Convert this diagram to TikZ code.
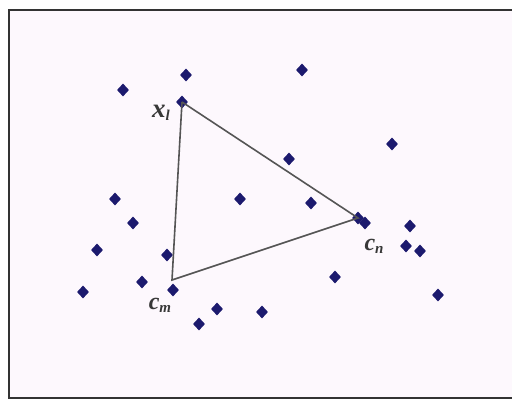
\documentclass[tikz,border=0pt]{standalone}
\usepackage{fontspec}
\setmainfont{Liberation Serif}
\usetikzlibrary{shapes.geometric}
\definecolor{dotblue}{HTML}{1C1A6E}
\definecolor{bgpink}{HTML}{FDF8FD}
\definecolor{framegray}{HTML}{333333}
\definecolor{edgegray}{HTML}{555555}
\newcommand{\sublbl}[3]{{\fontsize{#3}{#3}\selectfont\bfseries\itshape #1}\raisebox{-3pt}{\fontsize{15}{15}\selectfont\bfseries\itshape #2}}
\tikzset{
  pt/.style={diamond, fill=dotblue, inner sep=0pt, minimum width=12pt, minimum height=13pt},
  lbl/.style={inner sep=0pt, text=black!78},
  edge/.style={draw=edgegray, line width=1.6pt}
}
\begin{document}
\begin{tikzpicture}[x=1pt,y=-1pt]
\useasboundingbox (0,0) rectangle (512,403);
\fill[white] (0,0) rectangle (512,403);
\begin{scope}
\clip (0,0) rectangle (512,403);
\draw[framegray, line width=1.8pt, fill=bgpink] (9,10) rectangle (530,398);
\end{scope}
% points
\node[pt] (d1) at (123,90) {};
\node[pt] (d2) at (186,75) {};
\node[pt] (d3) at (302,70) {};
\node[pt] (d5) at (392,144) {};
\node[pt] (d6) at (289,159) {};
\node[pt] (d7) at (115,199) {};
\node[pt] (d8) at (240,199) {};
\node[pt] (d9) at (311,203) {};
\node[pt] (d10) at (365,223) {};
\node[pt] (d11) at (133,223) {};
\node[pt] (d12) at (410,226) {};
\node[pt] (d13) at (97,250) {};
\node[pt] (d14) at (167,255) {};
\node[pt] (d15) at (406,246) {};
\node[pt] (d16) at (420,251) {};
\node[pt] (d17) at (335,277) {};
\node[pt] (d18) at (142,282) {};
\node[pt] (d20) at (83,292) {};
\node[pt] (d21) at (438,295) {};
\node[pt] (d22) at (217,309) {};
\node[pt] (d23) at (262,312) {};
\node[pt] (d24) at (199,324) {};
% triangle vertices
\node[pt] (xl) at (182,102) {};
\node[pt] (cn) at (358,218) {};
\node[pt] (cm) at (173,290) {};
\coordinate (cmtop) at (172,280);
\draw[edge] (xl.center) -- (cn.center) -- (cmtop) -- (xl.center);
% labels
\node[lbl] (lxl) at (161,113) {\sublbl{x}{l}{27}};
\node[lbl] (lcn) at (374,246) {\sublbl{c}{n}{24}};
\node[lbl] (lcm) at (160,305) {\sublbl{c}{m}{24}};
\end{tikzpicture}
\end{document}
